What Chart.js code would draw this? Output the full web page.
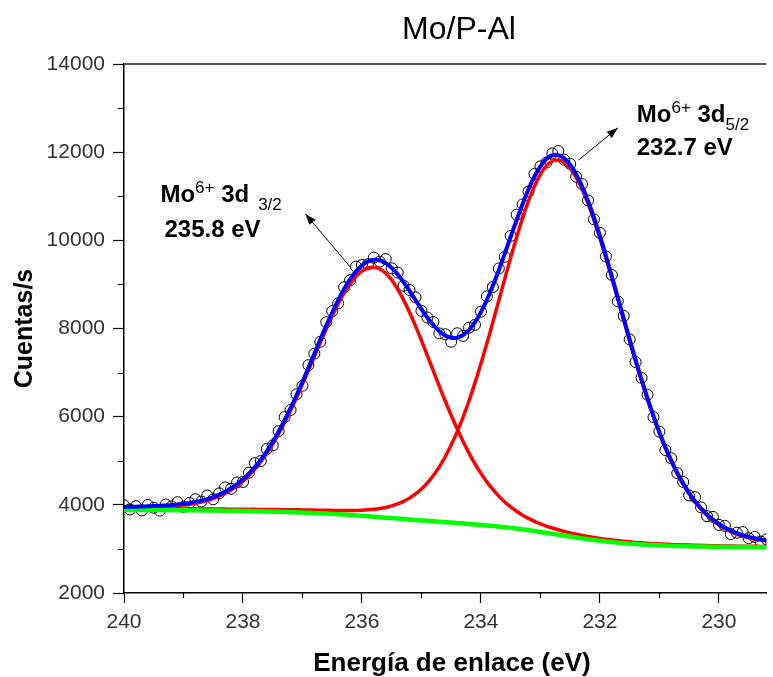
<!DOCTYPE html>
<html>
<head>
<meta charset="utf-8">
<script src="https://cdn.jsdelivr.net/npm/chart.js@4.4.1/dist/chart.umd.min.js"></script>
<style>
  html, body { margin: 0; padding: 0; background: #ffffff; }
  #wrap { width: 773px; height: 677px; }
</style>
</head>
<body>
<div id="wrap"><canvas id="xps" width="773" height="677"></canvas></div>
<script>
// Binding energy grid (eV), 0.1 eV steps
const energy = [
  240.0,239.9,239.8,239.7,239.6,239.5,239.4,239.3,239.2,239.1,
  239.0,238.9,238.8,238.7,238.6,238.5,238.4,238.3,238.2,238.1,
  238.0,237.9,237.8,237.7,237.6,237.5,237.4,237.3,237.2,237.1,
  237.0,236.9,236.8,236.7,236.6,236.5,236.4,236.3,236.2,236.1,
  236.0,235.9,235.8,235.7,235.6,235.5,235.4,235.3,235.2,235.1,
  235.0,234.9,234.8,234.7,234.6,234.5,234.4,234.3,234.2,234.1,
  234.0,233.9,233.8,233.7,233.6,233.5,233.4,233.3,233.2,233.1,
  233.0,232.9,232.8,232.7,232.6,232.5,232.4,232.3,232.2,232.1,
  232.0,231.9,231.8,231.7,231.6,231.5,231.4,231.3,231.2,231.1,
  231.0,230.9,230.8,230.7,230.6,230.5,230.4,230.3,230.2,230.1,
  230.0,229.9,229.8,229.7,229.6,229.5,229.4,229.3,229.2
];

// Measured counts (open circles)
const counts = [
  3992,3896,3969,3872,3997,3933,3869,4007,3966,4059,
  3954,4043,4127,4075,4211,4126,4261,4396,4365,4509,
  4519,4728,4946,4993,5265,5348,5672,5989,6153,6507,
  6703,7169,7429,7699,8143,8393,8572,8936,9095,9405,
  9440,9459,9608,9517,9574,9365,9268,8971,8873,8707,
  8401,8248,8148,7888,7870,7700,7892,7833,8019,8083,
  8381,8728,8939,9362,9626,10101,10582,10815,11109,11507,
  11679,11763,11970,12024,11830,11734,11442,11276,10905,10476,
  10169,9633,9214,8617,8286,7751,7237,6880,6497,5989,
  5660,5243,5056,4720,4518,4212,4174,3942,3744,3726,
  3546,3525,3335,3368,3382,3243,3273,3167,3217
];

// Fitted envelope (blue)
const envelope = [
  3952,3956,3959,3962,3967,3973,3979,3987,3996,4009,
  4024,4043,4067,4095,4131,4176,4231,4296,4375,4469,
  4579,4708,4856,5023,5215,5428,5662,5919,6193,6487,
  6793,7109,7429,7749,8063,8363,8642,8896,9115,9295,
  9430,9519,9558,9547,9484,9375,9228,9051,8853,8647,
  8441,8248,8078,7938,7840,7790,7792,7853,7969,8143,
  8371,8648,8969,9322,9696,10081,10462,10825,11159,11447,
  11679,11843,11930,11934,11860,11714,11502,11226,10895,10516,
  10099,9653,9184,8707,8226,7751,7287,6840,6417,6019,
  5650,5313,5006,4730,4488,4272,4084,3922,3784,3666,
  3566,3485,3415,3358,3312,3273,3243,3217,3197
];

// Mo6+ 3d3/2 component on background (red)
const peak3d32 = [
  3931,3934,3936,3939,3943,3948,3953,3961,3969,3981,
  3995,4013,4036,4064,4099,4143,4196,4260,4338,4431,
  4539,4666,4813,4979,5169,5380,5612,5867,6139,6430,
  6733,7046,7363,7679,7988,8283,8556,8802,9012,9181,
  9302,9373,9390,9351,9252,9099,8896,8650,8368,8058,
  7728,7386,7039,6693,6356,6032,5725,5439,5173,4932,
  4714,4520,4349,4198,4066,3952,3853,3766,3692,3626,
  3569,3519,3474,3434,3397,3364,3334,3307,3282,3259,
  3238,3220,3201,3186,3172,3160,3148,3138,3129,3120,
  3113,3107,3100,3095,3091,3087,3082,3079,3076,3073,
  3070,3068,3066,3063,3062,3060,3059,3057,3056
];

// Mo6+ 3d5/2 component on background (red)
const peak3d52 = [
  3906,3907,3907,3907,3907,3908,3908,3907,3907,3907,
  3907,3907,3906,3905,3904,3904,3904,3903,3902,3901,
  3900,3900,3898,3896,3895,3894,3892,3890,3888,3887,
  3885,3883,3880,3878,3876,3874,3872,3872,3872,3874,
  3878,3886,3898,3916,3941,3975,4020,4079,4152,4246,
  4360,4499,4666,4862,5091,5355,5654,5991,6362,6766,
  7201,7660,8140,8630,9122,9606,10070,10502,10892,11226,
  11495,11688,11799,11822,11763,11629,11426,11158,10833,10459,
  10046,9603,9138,8663,8184,7711,7249,6804,6382,5986,
  5618,5282,4977,4702,4460,4245,4059,3897,3760,3643,
  3544,3463,3394,3338,3292,3254,3224,3199,3179
];

// Shirley background (green)
const background = [
  3885,3885,3884,3884,3883,3883,3882,3881,3880,3879,
  3878,3877,3875,3874,3872,3871,3869,3867,3865,3863,
  3860,3858,3855,3852,3849,3846,3842,3838,3834,3830,
  3825,3820,3814,3808,3801,3794,3786,3778,3769,3760,
  3750,3740,3730,3720,3709,3699,3688,3678,3667,3657,
  3647,3637,3627,3617,3607,3597,3587,3577,3566,3555,
  3544,3532,3520,3506,3492,3477,3461,3443,3425,3405,
  3385,3364,3343,3322,3300,3279,3258,3239,3220,3202,
  3185,3170,3155,3142,3130,3120,3110,3102,3094,3087,
  3081,3076,3071,3067,3063,3060,3057,3054,3052,3050,
  3048,3046,3045,3043,3042,3041,3040,3039,3038
];

const xTicks = [240, 238, 236, 234, 232, 230];
const xMinorTicks = [239, 237, 235, 233, 231];
const yTicks = [2000, 4000, 6000, 8000, 10000, 12000, 14000];
const yMinorTicks = [3000, 5000, 7000, 9000, 11000, 13000];

const chartTitle = 'Mo/P-Al';
const xTitle = 'Energía de enlace (eV)';
const yTitle = 'Cuentas/s';

// Peak assignments: binding energy of each component
const peakLabels = [
  { ion: 'Mo', charge: '6+', level: '3d', sub: '3/2', be: 235.8,
    tail: [236.2, 9400], tip: [236.95, 10600], subGap: 9, line1: [-145, -12], line2: [-141, 23] },
  { ion: 'Mo', charge: '6+', level: '3d', sub: '5/2', be: 232.7,
    tail: [232.36, 11820], tip: [231.70, 12550], subGap: 0, line1: [19, -6], line2: [19, 27] }
];

const FONT = '"Liberation Sans", Arial, Helvetica, sans-serif';

const xy = (vals) => energy.map((e, i) => ({ x: e, y: vals[i] }));

function drawRich(ctx, x, y, parts) {
  let cx = x;
  for (const p of parts) {
    ctx.font = p.font;
    ctx.fillText(p.t, cx, y + (p.dy || 0));
    cx += ctx.measureText(p.t).width + (p.gap || 0);
  }
}

const decorations = {
  id: 'decorations',
  afterDraw(chart) {
    const { ctx, chartArea: a, scales: { x, y } } = chart;
    ctx.save();

    // frame line along the top
    ctx.strokeStyle = '#555555';
    ctx.lineWidth = 2;
    ctx.beginPath();
    ctx.moveTo(a.left, a.top);
    ctx.lineTo(a.right, a.top);
    ctx.stroke();

    // minor ticks
    ctx.strokeStyle = '#000000';
    ctx.lineWidth = 1.2;
    ctx.beginPath();
    for (const v of xMinorTicks) {
      const px = Math.round(x.getPixelForValue(v)) + 0.5;
      ctx.moveTo(px, a.bottom);
      ctx.lineTo(px, a.bottom + 5);
    }
    for (const v of yMinorTicks) {
      const py = Math.round(y.getPixelForValue(v)) + 0.5;
      ctx.moveTo(a.left - 6, py);
      ctx.lineTo(a.left, py);
    }
    ctx.stroke();

    // chart title
    ctx.fillStyle = '#000000';
    ctx.textBaseline = 'alphabetic';
    ctx.textAlign = 'center';
    ctx.font = '32px ' + FONT;
    ctx.fillText(chartTitle, 459, 39);

    // axis titles
    ctx.font = 'bold 26px ' + FONT;
    ctx.fillText(xTitle, 452, 671);
    ctx.font = 'bold 25px ' + FONT;
    ctx.save();
    ctx.translate(32, (a.top + a.bottom) / 2);
    ctx.rotate(-Math.PI / 2);
    ctx.fillText(yTitle, 0, 0);
    ctx.restore();

    // peak annotations with arrows
    ctx.textAlign = 'left';
    const B = 'bold 24px ' + FONT;
    const S = '17px ' + FONT;
    for (const p of peakLabels) {
      const tx = x.getPixelForValue(p.tail[0]), ty = y.getPixelForValue(p.tail[1]);
      const hx = x.getPixelForValue(p.tip[0]), hy = y.getPixelForValue(p.tip[1]);
      ctx.strokeStyle = '#000000';
      ctx.lineWidth = 1;
      ctx.beginPath();
      ctx.moveTo(tx, ty);
      ctx.lineTo(hx, hy);
      ctx.stroke();
      const ang = Math.atan2(hy - ty, hx - tx);
      const L = 11, W = 4;
      ctx.beginPath();
      ctx.moveTo(hx, hy);
      ctx.lineTo(hx - L * Math.cos(ang) + W * Math.sin(ang), hy - L * Math.sin(ang) - W * Math.cos(ang));
      ctx.lineTo(hx - L * Math.cos(ang) - W * Math.sin(ang), hy - L * Math.sin(ang) + W * Math.cos(ang));
      ctx.closePath();
      ctx.fillStyle = '#000000';
      ctx.fill();

      drawRich(ctx, hx + p.line1[0], hy + p.line1[1], [
        { t: p.ion, font: B },
        { t: p.charge, font: S, dy: -9, gap: 0 },
        { t: ' 3d', font: B, gap: p.subGap },
        { t: p.sub, font: S, dy: 8 }
      ]);
      ctx.font = B;
      ctx.fillText(p.be.toFixed(1) + ' eV', hx + p.line2[0], hy + p.line2[1]);
    }
    ctx.restore();
  }
};

new Chart(document.getElementById('xps'), {
  type: 'line',
  data: {
    datasets: [
      { label: 'Experimental', data: xy(counts), showLine: false,
        pointRadius: 5.5, pointHoverRadius: 5.5, pointBorderWidth: 1,
        pointBorderColor: '#000000', pointBackgroundColor: 'rgba(0,0,0,0)', order: 5 },
      { label: 'Mo6+ 3d3/2', data: xy(peak3d32), borderColor: '#ff0000',
        borderWidth: 3.5, pointRadius: 0, tension: 0.3, fill: false, order: 4 },
      { label: 'Mo6+ 3d5/2', data: xy(peak3d52), borderColor: '#ff0000',
        borderWidth: 3.5, pointRadius: 0, tension: 0.3, fill: false, order: 3 },
      { label: 'Fondo', data: xy(background), borderColor: '#00ff00',
        borderWidth: 4.5, pointRadius: 0, tension: 0.3, fill: false, order: 2 },
      { label: 'Ajuste', data: xy(envelope), borderColor: '#0000ff',
        borderWidth: 4, pointRadius: 0, tension: 0.3, fill: false, order: 1 }
    ]
  },
  options: {
    responsive: false,
    animation: false,
    devicePixelRatio: 1,
    layout: { padding: { top: 64, right: 0, left: 0, bottom: 0 } },
    plugins: { legend: { display: false }, tooltip: { enabled: false }, title: { display: false } },
    scales: {
      x: {
        type: 'linear', reverse: true, min: 229.2, max: 240,
        afterBuildTicks: (s) => { s.ticks = xTicks.map(v => ({ value: v })); },
        afterFit: (s) => { s.height = 84; },
        ticks: { color: '#333333', font: { family: FONT, size: 21 }, padding: 7,
                 maxRotation: 0, autoSkip: false, callback: (v) => String(v) },
        grid: { drawOnChartArea: false, drawTicks: true, tickLength: 10, tickColor: '#000000', tickWidth: 1.2 },
        border: { display: true, color: '#000000', width: 1.5 }
      },
      y: {
        type: 'linear', min: 2000, max: 14000,
        afterBuildTicks: (s) => { s.ticks = yTicks.map(v => ({ value: v })); },
        afterFit: (s) => { s.width = 124; },
        ticks: { color: '#333333', font: { family: FONT, size: 21 }, padding: 8,
                 autoSkip: false, callback: (v) => String(v) },
        grid: { drawOnChartArea: false, drawTicks: true, tickLength: 11, tickColor: '#000000', tickWidth: 1.2 },
        border: { display: true, color: '#000000', width: 1.5 }
      }
    }
  },
  plugins: [decorations]
});
</script>
</body>
</html>
